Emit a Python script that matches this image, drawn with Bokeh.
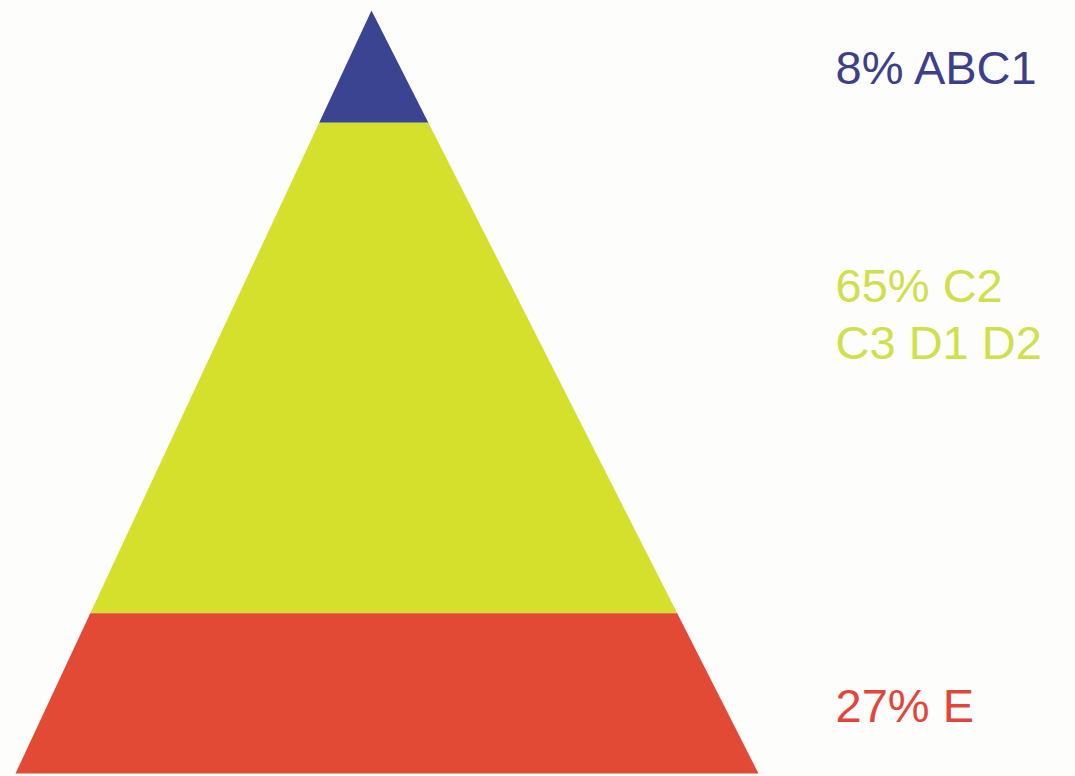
from bokeh.plotting import figure
from bokeh.models import Range1d
from bokeh.embed import file_html
from bokeh.resources import INLINE
from bokeh.core.properties import value

# ---- data (top tier first) ----
categories = ["ABC1", "C2 C3 D1 D2", "E"]
percentages = [8, 65, 27]
# tier heights as drawn in the picture (share of pyramid height, top to bottom)
tier_heights = [14.7, 64.3, 21.0]
label_lines = [["8% ABC1"], ["65% C2", "C3 D1 D2"], ["27% E"]]
fill_colors = ["#3a4490", "#d4e02b", "#e24a35"]
text_colors = ["#3c3f8a", "#d0df4c", "#e2463b"]

# ---- layout (pixel-like x units, y = % of pyramid height) ----
W, H = 1075, 776
apex_x = 371.0
base_left, base_right = 15.0, 758.0
px_per_unit = 7.63
base_px = 773.0
y_bottom = -(H - base_px) / px_per_unit
y_top = (base_px) / px_per_unit

p = figure(width=W, height=H, output_backend="svg", toolbar_location=None,
           x_range=Range1d(0, W), y_range=Range1d(y_bottom, y_top),
           min_border=0, min_border_left=0, min_border_right=0,
           min_border_top=0, min_border_bottom=0)
p.axis.visible = False
p.grid.visible = False
p.outline_line_color = None
p.background_fill_color = "#fdfdfb"
p.border_fill_color = "#fdfdfb"


def left_x(y):
    return base_left + (apex_x - base_left) * y / 100.0


def right_x(y):
    return base_right - (base_right - apex_x) * y / 100.0


xs, ys = [], []
top = 100.0
for h in tier_heights:
    bot = top - h
    if top >= 99.999:
        xs.append([left_x(bot), right_x(bot), apex_x])
        ys.append([bot, bot, 100.0])
    else:
        xs.append([left_x(bot), right_x(bot), right_x(top), left_x(top)])
        ys.append([bot, bot, top, top])
    top = bot

p.patches(xs=xs, ys=ys, fill_color=fill_colors, line_color=None)

# labels
label_x = 835.0
label_baseline_px = [[67.0], [285.0, 342.0], [705.0]]
tx, ty, tt, tc = [], [], [], []
for lines, bls, col in zip(label_lines, label_baseline_px, text_colors):
    for line, bl in zip(lines, bls):
        tx.append(label_x)
        ty.append((base_px - bl) / px_per_unit)
        tt.append(line)
        tc.append(col)

p.text(x=tx, y=ty, text=tt, text_color=tc, text_font=value("Liberation Sans"),
       text_font_size="47px", text_align="left", text_baseline="alphabetic")

open("out.html", "w").write(file_html(p, INLINE))
